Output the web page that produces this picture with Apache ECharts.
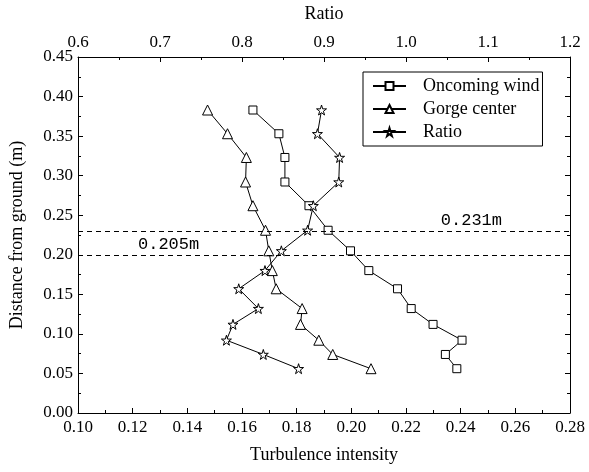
<!DOCTYPE html>
<html>
<head>
<meta charset="utf-8">
<script src="https://cdn.jsdelivr.net/npm/echarts@6/dist/echarts.min.js"></script>
<style>html,body{margin:0;padding:0;background:#fff;}#c{width:589px;height:472px;}</style>
</head>
<body>
<div id="c"></div>
<script>
var heights = [0.383, 0.353, 0.323, 0.292, 0.262, 0.231, 0.205, 0.180, 0.157, 0.132, 0.112, 0.092, 0.074, 0.056];
var oncomingWind = [0.164, 0.1735, 0.1757, 0.1757, 0.1845, 0.1915, 0.1997, 0.2064, 0.2169, 0.2219, 0.2299, 0.2405, 0.2344, 0.2386];
var gorgeCenter = [0.1474, 0.1547, 0.1616, 0.1613, 0.1640, 0.1686, 0.1698, 0.1711, 0.1725, 0.1820, 0.1814, 0.1881, 0.1932, 0.2072];
var ratio = [0.897, 0.892, 0.919, 0.918, 0.887, 0.880, 0.848, 0.828, 0.796, 0.820, 0.789, 0.781, 0.826, 0.869];
var refLines = [0.231, 0.205];
var refLabels = ['0.231m', '0.205m'];

var SERIF = '"Liberation Serif", "Times New Roman", serif';
var STAR = 'path://M50,0 L61,35 L98,35 L68,57 L79,91 L50,70 L21,91 L32,57 L2,35 L39,35 Z';

function pairs(xs) { return xs.map(function (v, i) { return [v, heights[i]]; }); }

var chart = echarts.init(document.getElementById('c'), null, {renderer: 'canvas'});
var axisCommon = {
  axisLine: {show: true, onZero: false, lineStyle: {color: '#000', width: 1}},
  axisTick: {show: true, inside: true, length: 5, lineStyle: {color: '#000'}},
  minorTick: {show: true, splitNumber: 2, length: 3, lineStyle: {color: '#000'}},
  splitLine: {show: false},
  axisLabel: {color: '#000', fontFamily: SERIF, fontSize: 17},
  nameTextStyle: {color: '#000', fontFamily: SERIF, fontSize: 18}
};
function ax(o) { return Object.assign({}, JSON.parse(JSON.stringify(axisCommon)), o); }

var lineStyle = {color: '#000', width: 1};
var itemStyle = {color: '#fff', borderColor: '#000', borderWidth: 1};

chart.setOption({
  animation: false,
  backgroundColor: '#fff',
  grid: {left: 77, right: 19, top: 57, bottom: 59},
  legend: {
    orient: 'vertical', left: 363, top: 72,
    borderColor: '#000', borderWidth: 1, borderRadius: 0,
    padding: [5, 3, 5, 9], itemGap: 5, itemWidth: 33, itemHeight: 10,
    textStyle: {color: '#000', fontFamily: SERIF, fontSize: 18, lineHeight: 18, padding: [0, 0, 0, 12]},
    data: ['Oncoming wind', 'Gorge center', 'Ratio']
  },
  xAxis: [
    ax({type: 'value', position: 'bottom', min: 0.10, max: 0.28, interval: 0.02,
      name: 'Turbulence intensity', nameLocation: 'middle', nameGap: 33,
      axisLabel: Object.assign({}, axisCommon.axisLabel, {margin: 6, formatter: function (v) { return v.toFixed(2); }})}),
    ax({type: 'value', position: 'top', min: 0.6, max: 1.2, interval: 0.1,
      name: 'Ratio', nameLocation: 'middle', nameGap: 34,
      axisLabel: Object.assign({}, axisCommon.axisLabel, {margin: 6, formatter: function (v) { return v.toFixed(1); }})})
  ],
  yAxis: [
    ax({type: 'value', position: 'left', min: 0, max: 0.45, interval: 0.05,
      name: 'Distance from ground (m)', nameLocation: 'middle', nameGap: 52, nameRotate: 90,
      axisLabel: Object.assign({}, axisCommon.axisLabel, {margin: 5, formatter: function (v) { return v.toFixed(2); }})}),
    ax({type: 'value', position: 'right', min: 0, max: 0.45, interval: 0.05,
      axisLabel: {show: false}})
  ],
  series: [
    {name: 'Oncoming wind', type: 'line', xAxisIndex: 0, yAxisIndex: 0, data: pairs(oncomingWind),
      symbol: 'rect', symbolSize: 8, showAllSymbol: true, lineStyle: lineStyle, itemStyle: itemStyle, z: 3,
      markLine: {
        silent: true, symbol: ['none', 'none'],
        lineStyle: {color: '#000', type: [5, 4], width: 1},
        data: [
          {yAxis: refLines[0], label: {show: true, position: 'insideEndTop', distance: [68, 2], formatter: refLabels[0],
            color: '#000', fontFamily: '"Liberation Mono", monospace', fontSize: 17}},
          {yAxis: refLines[1], label: {show: true, position: 'insideStartTop', distance: [60, 2], formatter: refLabels[1],
            color: '#000', fontFamily: '"Liberation Mono", monospace', fontSize: 17}}
        ]
      }},
    {name: 'Gorge center', type: 'line', xAxisIndex: 0, yAxisIndex: 0, data: pairs(gorgeCenter),
      symbol: 'triangle', symbolSize: 10, showAllSymbol: true, lineStyle: lineStyle, itemStyle: itemStyle, z: 3},
    {name: 'Ratio', type: 'line', xAxisIndex: 1, yAxisIndex: 0, data: pairs(ratio),
      symbol: STAR, symbolSize: 10, showAllSymbol: true, lineStyle: lineStyle, itemStyle: itemStyle, z: 3}
  ]
});
</script>
</body>
</html>
